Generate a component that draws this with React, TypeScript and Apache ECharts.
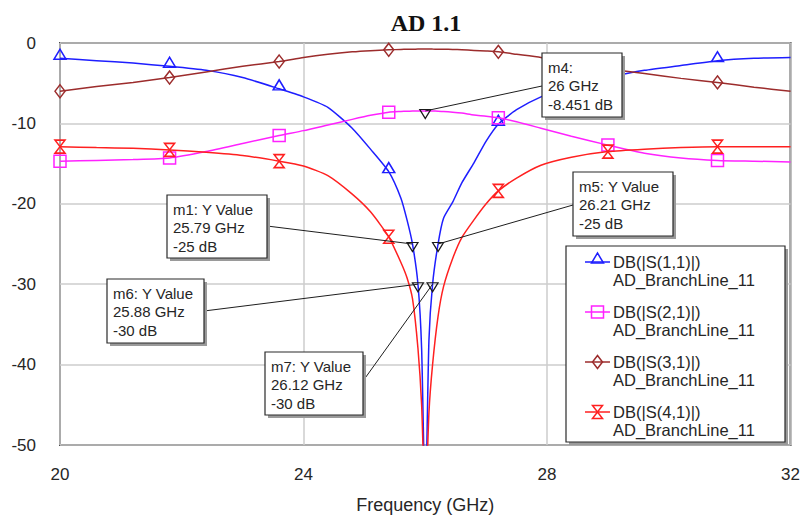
import React, { useEffect, useRef } from 'react';
import * as echarts from 'echarts';

// Sweep frequencies (GHz), sampled more densely around the 26 GHz centre
const FREQ_GHZ = [
  20, 20.6, 21.2, 21.8, 22.4, 23.0, 23.6, 24.0, 24.4, 24.8, 25.1, 25.4,
  25.6, 25.7, 25.79, 25.88, 25.94, 26.0, 26.06, 26.12, 26.21, 26.3, 26.45,
  26.6, 26.8, 27.0, 27.2, 27.5, 27.9, 28.4, 29.0, 29.6, 30.2, 30.8, 31.4, 32,
];

const S11_DB = [
  -1.9, -2.2, -2.5, -2.9, -3.4, -4.3, -5.7, -6.7, -8.0, -10.6, -13.2, -16.0,
  -19.3, -22.0, -25, -30, -38, -58, -37, -30, -25, -21.8, -19.8,
  -17.4, -14.9, -12.2, -10.1, -8.3, -6.7, -5.4, -4.3, -3.4, -2.8, -2.2, -1.9, -1.8,
];
const S21_DB = [
  -14.7, -14.6, -14.5, -14.3, -13.5, -12.5, -11.5, -10.9, -10.2, -9.5, -9.0, -8.6,
  -8.52, -8.49, -8.47, -8.46, -8.455, -8.451, -8.455, -8.46, -8.48, -8.51, -8.6,
  -8.72, -8.95, -9.1, -9.3, -9.8, -10.6, -11.6, -12.7, -13.7, -14.3, -14.6, -14.7, -14.8,
];
const S31_DB = [
  -6.0, -5.4, -4.9, -4.3, -3.6, -2.9, -2.3, -1.8, -1.4, -1.1, -0.95, -0.85,
  -0.8, -0.78, -0.77, -0.76, -0.75, -0.75, -0.75, -0.76, -0.77, -0.78, -0.8,
  -0.85, -0.92, -1.0, -1.1, -1.4, -1.8, -2.5, -3.2, -3.8, -4.4, -4.9, -5.5, -6.0,
];
const S41_DB = [
  -12.9, -13.0, -13.1, -13.3, -13.6, -14.0, -14.7, -15.3, -16.5, -18.8, -21.0, -24.1,
  -27.3, -29.2, -31.8, -38, -45, -58, -46, -40, -34, -30.3, -26.8,
  -24.2, -22.0, -20.0, -18.4, -16.8, -15.2, -14.2, -13.5, -13.2, -13.0, -12.9, -12.9, -12.9,
];

// Frequencies at which each trace carries its symbol
const SYMBOL_FREQ_GHZ = [20, 21.8, 23.6, 25.4, 27.2, 29.0, 30.8];

const TRACE_NAMES = ['DB(|S(1,1)|)', 'DB(|S(2,1)|)', 'DB(|S(3,1)|)', 'DB(|S(4,1)|)'];
const TRACE_VALUES = [S11_DB, S21_DB, S31_DB, S41_DB];
const DOC_NAME = 'AD_BranchLine_11';
const TITLE = 'AD 1.1';
const X_NAME = 'Frequency (GHz)';

// Axis ranges
const X_MIN = 20, X_MAX = 32, X_STEP = 4;
const Y_MIN = -50, Y_MAX = 0, Y_STEP = 10;

// Trace markers
const MARKER_NAMES = ['m4', 'm1', 'm5', 'm6', 'm7'];
const MARKER_TRACE = [1, 0, 0, 0, 0];
const MARKER_FREQ_GHZ = [26, 25.79, 26.21, 25.88, 26.12];
const MARKER_DB = [-8.451, -25, -25, -30, -30];
const MARKER_KIND = ['', 'Y Value', 'Y Value', 'Y Value', 'Y Value'];

// ---- styling / layout ----
const SANS = '"Liberation Sans", Arial, sans-serif';
const TEXT_COLOR = '#262626';
const TRACE_STYLE = [
  { color: '#1e1eff', symbol: 'triangle', size: [12, 10], offset: [0, -4] },
  { color: '#ff22ff', symbol: 'rect', size: [12, 12], offset: [0, 0] },
  { color: '#9c2c2c', symbol: 'diamond', size: [10, 13], offset: [0, 0] },
  { color: '#ff2020', symbol: 'path://M0,0L10,0L0,13L10,13Z', size: [10, 13], offset: [0, 0] },
];
const GRID = { left: 60, right: 11, top: 43, bottom: 69 };

// Marker readout boxes: box rectangle and where its leader leaves the box
const MARKER_BOX: Record<string, { x: number; y: number; w: number; h: number; ax: number; ay: number }> = {
  m4: { x: 542, y: 53, w: 80, h: 64, ax: 542, ay: 86 },
  m5: { x: 573, y: 172, w: 100, h: 64, ax: 573, ay: 205 },
  m1: { x: 167, y: 195, w: 100, h: 63, ax: 267, ay: 226 },
  m6: { x: 107, y: 279, w: 97, h: 64, ax: 204, ay: 311 },
  m7: { x: 265, y: 352, w: 98, h: 63, ax: 363, ay: 381 },
};
const LEGEND_BOX = { x: 566, y: 246, w: 219, h: 196 };

function traceData(values: number[]) {
  return FREQ_GHZ.map((f, i) =>
    SYMBOL_FREQ_GHZ.includes(f) ? { value: [f, values[i]] } : { value: [f, values[i]], symbol: 'none' }
  );
}

function markerLines(i: number): string[] {
  const head = MARKER_KIND[i] ? `${MARKER_NAMES[i]}: ${MARKER_KIND[i]}` : `${MARKER_NAMES[i]}:`;
  return [head, `${MARKER_FREQ_GHZ[i]} GHz`, `${MARKER_DB[i]} dB`];
}

function buildOption(): echarts.EChartsOption {
  const series: any[] = TRACE_NAMES.map((name, t) => {
    const st = TRACE_STYLE[t];
    const marks = MARKER_NAMES.map((_, i) => i).filter((i) => MARKER_TRACE[i] === t);
    return {
      type: 'line',
      name,
      data: traceData(TRACE_VALUES[t]),
      symbol: st.symbol,
      symbolSize: st.size,
      symbolOffset: st.offset,
      showSymbol: true,
      showAllSymbol: true,
      smooth: 0.2,
      clip: true,
      lineStyle: { color: st.color, width: 1.5 },
      itemStyle: { color: 'rgba(255,255,255,0)', borderColor: st.color, borderWidth: 1.5 },
      emphasis: { disabled: true },
      z: 3 + t,
      markPoint: marks.length
        ? {
            symbol: 'path://M0,0L10,0L5,9Z',
            symbolSize: [11, 9],
            symbolOffset: [0, 3],
            itemStyle: { color: 'rgba(255,255,255,0)', borderColor: '#1a1a1a', borderWidth: 1.2 },
            label: { show: false },
            emphasis: { disabled: true },
            data: marks.map((i) => ({ coord: [MARKER_FREQ_GHZ[i], MARKER_DB[i]] })),
          }
        : undefined,
    };
  });

  return {
    animation: false,
    backgroundColor: '#ffffff',
    grid: {
      ...GRID,
      show: true,
      backgroundColor: '#ffffff',
      borderColor: '#4a4a4a',
      borderWidth: 2,
    },
    xAxis: {
      type: 'value',
      min: X_MIN,
      max: X_MAX,
      interval: X_STEP,
      axisLine: { show: false },
      axisTick: { show: false },
      splitLine: { lineStyle: { color: '#cdcdcd', width: 1.5 } },
      axisLabel: { margin: 21, fontSize: 17, color: TEXT_COLOR, fontFamily: SANS },
      name: X_NAME,
      nameLocation: 'middle',
      nameGap: 51,
      nameTextStyle: { fontSize: 18, color: TEXT_COLOR, fontFamily: SANS },
    },
    yAxis: {
      type: 'value',
      min: Y_MIN,
      max: Y_MAX,
      interval: Y_STEP,
      axisLine: { show: false },
      axisTick: { show: false },
      splitLine: { lineStyle: { color: '#cdcdcd', width: 1.5 } },
      axisLabel: { margin: 24, fontSize: 17, color: TEXT_COLOR, fontFamily: SANS },
    },
    series,
  };
}

function shadowBox(x: number, y: number, w: number, h: number, z: number): any[] {
  return [
    { type: 'rect', z, shape: { x: x + 3, y: y + 3, width: w, height: h }, style: { fill: '#9a9a9a' } },
    { type: 'rect', z: z + 1, shape: { x, y, width: w, height: h }, style: { fill: '#ffffff', stroke: '#2a2a2a', lineWidth: 1.2 } },
  ];
}

function legendSymbol(t: number, cx: number, cy: number, z: number): any {
  const color = TRACE_STYLE[t].color;
  const style = { fill: 'none', stroke: color, lineWidth: 1.5 };
  if (t === 0) return { type: 'polygon', z, shape: { points: [[cx - 6, cy + 1], [cx + 6, cy + 1], [cx, cy - 9]] }, style };
  if (t === 1) return { type: 'rect', z, shape: { x: cx - 6, y: cy - 6, width: 12, height: 12 }, style };
  if (t === 2) return { type: 'polygon', z, shape: { points: [[cx, cy - 6.5], [cx + 5, cy], [cx, cy + 6.5], [cx - 5, cy]] }, style };
  return { type: 'polygon', z, shape: { points: [[cx - 5, cy - 6.5], [cx + 5, cy - 6.5], [cx - 5, cy + 6.5], [cx + 5, cy + 6.5]] }, style };
}

function textEl(text: string, x: number, y: number, font: string, z: number, align = 'left'): any {
  return {
    type: 'text',
    z,
    x,
    y,
    style: {
      text,
      font,
      fill: TEXT_COLOR,
      align,
      verticalAlign: 'middle',
      textAlign: align,
      textVerticalAlign: 'middle',
    },
  };
}

function buildGraphics(chart: echarts.ECharts): any[] {
  const els: any[] = [];
  // title over the plot area
  const plotCx = (GRID.left + (803 - GRID.right)) / 2;
  els.push({
    type: 'text',
    z: 50,
    x: plotCx,
    y: 23,
    style: {
      text: TITLE,
      font: 'bold 24px "Liberation Serif", "Times New Roman", serif',
      fill: '#111111',
      align: 'center',
      verticalAlign: 'middle',
      textAlign: 'center',
      textVerticalAlign: 'middle',
    },
  });

  // marker readouts with leader lines
  MARKER_NAMES.forEach((name, i) => {
    const b = MARKER_BOX[name];
    const p = chart.convertToPixel({ xAxisIndex: 0, yAxisIndex: 0 }, [MARKER_FREQ_GHZ[i], MARKER_DB[i]]) as number[];
    els.push({
      type: 'line',
      z: 40,
      shape: { x1: b.ax, y1: b.ay, x2: p[0], y2: p[1] },
      style: { stroke: '#1e1e1e', lineWidth: 1 },
    });
    els.push(...shadowBox(b.x, b.y, b.w, b.h, 41));
    markerLines(i).forEach((line, k) => {
      els.push(textEl(line, b.x + 6, b.y + 14 + k * 18.5, `15px ${SANS}`, 43));
    });
  });

  // legend
  const L = LEGEND_BOX;
  els.push(...shadowBox(L.x, L.y, L.w, L.h, 60));
  TRACE_NAMES.forEach((name, t) => {
    const rowY = L.y + 16 + t * 50;
    els.push({
      type: 'line',
      z: 62,
      shape: { x1: 585, y1: rowY, x2: 610, y2: rowY },
      style: { stroke: TRACE_STYLE[t].color, lineWidth: 1.5 },
    });
    els.push(legendSymbol(t, 597.5, rowY, 63));
    els.push(textEl(name, 613, rowY, `16.5px ${SANS}`, 63));
    els.push(textEl(DOC_NAME, 613, rowY + 18, `16.5px ${SANS}`, 63));
  });
  return els;
}

export default function App() {
  const ref = useRef<HTMLDivElement>(null);
  useEffect(() => {
    if (!ref.current) return;
    const chart = echarts.init(ref.current, null, { renderer: 'svg' });
    chart.setOption(buildOption());
    chart.setOption({ graphic: buildGraphics(chart) });
    return () => chart.dispose();
  }, []);
  return (
    <div
      ref={ref}
      style={{ position: 'absolute', left: 0, top: 0, width: 803, height: 519, background: '#ffffff' }}
    />
  );
}
